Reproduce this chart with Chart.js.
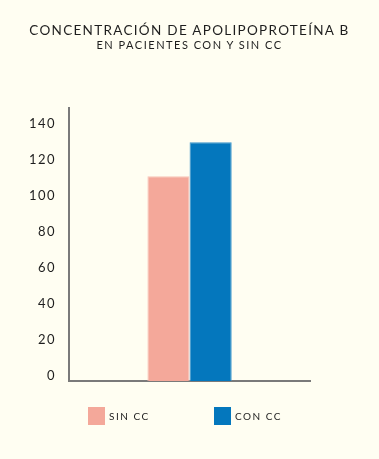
<!DOCTYPE html>
<html>
<head>
<meta charset="utf-8">
<script src="https://cdn.jsdelivr.net/npm/chart.js@4"></script>
<style>
  html, body { margin: 0; padding: 0; background: #fffef2; }
  .wrap { position: relative; width: 379px; height: 459px; }
  .title, .subtitle {
    position: absolute; left: 0; width: 379px; text-align: center;
    font-family: Lato, sans-serif; color: #1e1e1e;
  }
  .title { top: 22px; font-size: 13.5px; letter-spacing: 1.3px; }
  .subtitle { top: 38px; font-size: 11px; letter-spacing: 1.5px; }
  canvas { position: absolute; left: 0; top: 0; }
  .legend { position: absolute; top: 407px; left: 0; width: 379px; height: 18px;
    font-family: Lato, sans-serif; font-size: 10px; letter-spacing: 1.5px; color: #1e1e1e; }
  .legend .item { position: absolute; top: 0; height: 18px; line-height: 18px; white-space: nowrap; }
  .legend .box { display: inline-block; width: 17px; height: 18px; vertical-align: top; margin-right: 4px; }
</style>
</head>
<body>
<div class="wrap">
  <canvas id="apoChart" width="379" height="459"></canvas>
  <div class="title">CONCENTRACIÓN DE APOLIPOPROTEÍNA B</div>
  <div class="subtitle">EN PACIENTES CON Y SIN CC</div>
  <div class="legend" id="legend"></div>
</div>
<script>
// datos
const groupLabels = [''];
const seriesNames = ['SIN CC', 'CON CC'];
const sinCcValues = [111];
const conCcValues = [130];
const yTickValues = [0, 20, 40, 60, 80, 100, 120, 140];
const seriesColors = ['#f4a89a', '#0477bd'];

const letterSpacingPlugin = {
    id: 'letterSpacing',
    beforeDraw(chart) {
        chart.ctx.letterSpacing = '1.5px';
    },
    beforeLayout(chart) {
        chart.ctx.letterSpacing = '1.5px';
    }
};

const ctx = document.getElementById('apoChart').getContext('2d');
const chart = new Chart(ctx, {
    type: 'bar',
    data: {
        labels: groupLabels,
        datasets: [
            {
                label: seriesNames[0],
                data: sinCcValues,
                backgroundColor: seriesColors[0],
                borderColor: '#f8c4b8',
                borderWidth: 1,
                base: -3,
                categoryPercentage: 0.35,
                barPercentage: 1,
            },
            {
                label: seriesNames[1],
                data: conCcValues,
                backgroundColor: seriesColors[1],
                borderColor: '#3a93cc',
                borderWidth: 1,
                base: -3,
                categoryPercentage: 0.35,
                barPercentage: 1,
            },
        ],
    },
    options: {
        responsive: false,
        animation: false,
        layout: {
            padding: { left: 24, right: 69, top: 108, bottom: 70 }
        },
        plugins: {
            legend: { display: false },
            tooltip: { enabled: false },
        },
        scales: {
            x: {
                grid: { display: false },
                border: { color: '#7a7a7a', width: 2 },
                ticks: { display: false },
            },
            y: {
                min: -3,
                max: 149,
                grid: { display: false },
                border: { color: '#7a7a7a', width: 2 },
                afterBuildTicks: scale => {
                    scale.ticks = yTickValues.map(v => ({ value: v }));
                },
                ticks: {
                    color: '#1e1e1e',
                    padding: 5,
                    font: { family: 'Lato', size: 13 },
                },
            },
        },
    },
    plugins: [letterSpacingPlugin],
});

// leyenda (HTML)
const legendEl = document.getElementById('legend');
const legendX = [88, 214];
chart.data.datasets.forEach((ds, i) => {
    const item = document.createElement('div');
    item.className = 'item';
    item.style.left = legendX[i] + 'px';
    const box = document.createElement('span');
    box.className = 'box';
    box.style.backgroundColor = ds.backgroundColor;
    const text = document.createElement('span');
    text.innerText = ds.label;
    item.appendChild(box);
    item.appendChild(text);
    legendEl.appendChild(item);
});
</script>
</body>
</html>
